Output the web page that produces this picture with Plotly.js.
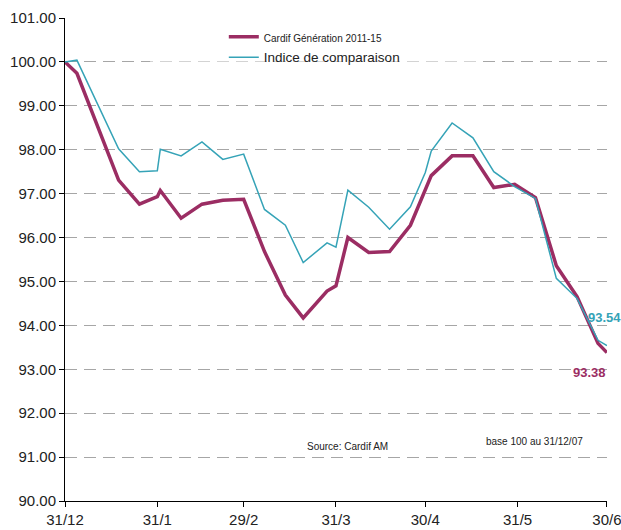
<!DOCTYPE html>
<html>
<head>
<meta charset="utf-8">
<script src="https://cdn.plot.ly/plotly-3.0.1.min.js"></script>
<style>html,body{margin:0;padding:0;background:#fff;}#chart{width:621px;height:530px;}</style>
</head>
<body>
<div id="chart"></div>
<script>
// Cardif Génération 2011-15 (base 100 au 31/12/07)
const cardifDates = ['2007-12-31','2008-01-04','2008-01-18','2008-01-25','2008-01-31','2008-02-01','2008-02-08','2008-02-15','2008-02-22','2008-02-29','2008-03-07','2008-03-14','2008-03-20','2008-03-28','2008-03-31','2008-04-04','2008-04-11','2008-04-18','2008-04-25','2008-05-02','2008-05-09','2008-05-16','2008-05-23','2008-05-30','2008-06-06','2008-06-13','2008-06-20','2008-06-27','2008-06-30'];
const cardifValues = [100.00,99.74,97.31,96.76,96.93,97.07,96.44,96.76,96.85,96.87,95.68,94.69,94.17,94.78,94.90,96.00,95.66,95.68,96.28,97.41,97.86,97.86,97.14,97.21,96.91,95.36,94.65,93.59,93.38];

// Indice de comparaison
const indexDates = ['2007-12-31','2008-01-04','2008-01-18','2008-01-25','2008-01-31','2008-02-01','2008-02-08','2008-02-15','2008-02-22','2008-02-29','2008-03-07','2008-03-14','2008-03-20','2008-03-28','2008-03-31','2008-04-04','2008-04-11','2008-04-18','2008-04-25','2008-04-30','2008-05-02','2008-05-09','2008-05-16','2008-05-23','2008-05-30','2008-06-06','2008-06-13','2008-06-20','2008-06-27','2008-06-30'];
const indexValues = [100.00,100.04,98.02,97.50,97.52,98.01,97.86,98.18,97.78,97.90,96.64,96.28,95.43,95.88,95.78,97.08,96.69,96.19,96.70,97.48,97.97,98.61,98.27,97.50,97.16,96.89,95.07,94.61,93.66,93.54];

const tickDates = ['2007-12-31','2008-01-31','2008-02-29','2008-03-31','2008-04-30','2008-05-31','2008-06-30'];
const tickLabels = ['31/12','31/1','29/2','31/3','30/4','31/5','30/6'];
const yTicks = [90,91,92,93,94,95,96,97,98,99,100,101];

const purple = '#9b2d63';
const teal = '#35a3b7';

const traces = [
  {x: cardifDates, y: cardifValues, type: 'scatter', mode: 'lines',
   name: '<span style="font-size:10px">Cardif Génération 2011-15</span>',
   line: {color: purple, width: 3.5}},
  {x: indexDates, y: indexValues, type: 'scatter', mode: 'lines',
   name: 'Indice de comparaison',
   line: {color: teal, width: 1.5}}
];

const layout = {
  width: 621, height: 530,
  margin: {l: 65, r: 14, t: 18, b: 29, pad: 0},
  paper_bgcolor: '#fff', plot_bgcolor: '#fff',
  font: {family: 'Liberation Sans, Arial, sans-serif', color: '#222', size: 15},
  showlegend: true,
  legend: {x: 0.293, xanchor: 'left', y: 0.993, yanchor: 'top', bgcolor: 'rgba(0,0,0,0)',
           font: {size: 13.5, color: '#222'}, tracegroupgap: 0},
  xaxis: {type: 'date', range: ['2007-12-31','2008-06-30 00:30'], tickmode: 'array',
          tickvals: tickDates, ticktext: tickLabels, showgrid: false, zeroline: false,
          showline: true, linecolor: '#000', linewidth: 1, ticks: 'outside', ticklen: 5,
          tickcolor: '#000', tickfont: {size: 15, color: '#222'}, ticklabeloverflow: 'allow'},
  yaxis: {range: [90, 101], tickmode: 'array', tickvals: yTicks,
          ticktext: yTicks.map(v => v.toFixed(2)), showgrid: true, gridcolor: '#a6a6a6',
          gridwidth: 1, griddash: '12px,7px', zeroline: false, showline: true,
          linecolor: '#000', linewidth: 1, ticks: 'outside', ticklen: 5, tickcolor: '#000',
          tickfont: {size: 15, color: '#222'}},
  shapes: [
    {type: 'rect', xref: 'paper', yref: 'paper', x0: 0.157, x1: 0.765, y0: 0.91, y1: 0.965,
     fillcolor: '#fff', line: {width: 0}, layer: 'above'}
  ],
  annotations: [
    {xref: 'x', yref: 'y', x: indexDates[indexDates.length-1], y: indexValues[indexValues.length-1],
     text: '<b>' + indexValues[indexValues.length-1].toFixed(2) + '</b>', showarrow: false,
     xanchor: 'right', yanchor: 'middle', xshift: 16, yshift: 28,
     font: {size: 13, color: teal}},
    {xref: 'x', yref: 'y', x: cardifDates[cardifDates.length-1], y: cardifValues[cardifValues.length-1],
     text: '<b>' + cardifValues[cardifValues.length-1].toFixed(2) + '</b>', showarrow: false,
     xanchor: 'right', yanchor: 'middle', xshift: 1, yshift: -20,
     font: {size: 13, color: purple}},
    {xref: 'paper', yref: 'paper', x: 0.522, y: 0.113, text: 'Source: Cardif AM',
     showarrow: false, xanchor: 'center', yanchor: 'middle', font: {size: 10, color: '#222'}},
    {xref: 'paper', yref: 'paper', x: 0.867, y: 0.124, text: 'base 100 au 31/12/07',
     showarrow: false, xanchor: 'center', yanchor: 'middle', font: {size: 10, color: '#222'}}
  ]
};

Plotly.newPlot('chart', traces, layout, {displayModeBar: false, staticPlot: true});
</script>
</body>
</html>
